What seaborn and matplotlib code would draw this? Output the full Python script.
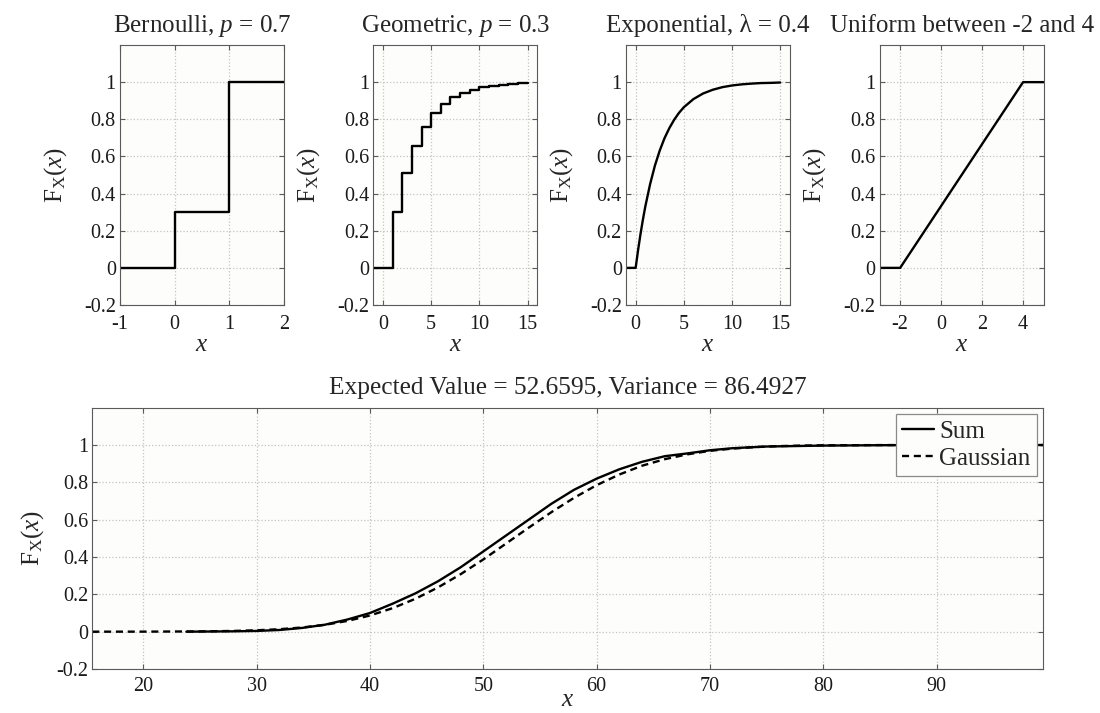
import matplotlib
matplotlib.use("Agg")
import matplotlib.pyplot as plt
import pandas as pd
import seaborn as sns

# ---- distribution CDFs ----
bern_x = [-1, 0, 1, 2]
bern_cdf = [0.0, 0.3, 1.0, 1.0]

geom_x = [-1, 1, 2, 3, 4, 5, 6, 7, 8, 9, 10, 11, 12, 13, 14, 15]
geom_cdf = [0.0, 0.300, 0.510, 0.657, 0.760, 0.832, 0.882, 0.918, 0.942,
            0.960, 0.972, 0.980, 0.986, 0.990, 0.993, 0.995]

expo_x = [-1, 0, 0.25, 0.5, 0.75, 1, 1.5, 2, 2.5, 3, 3.5, 4, 4.5, 5, 6, 7,
          8, 9, 10, 11, 12, 13, 14, 15]
expo_cdf = [0.0, 0.0, 0.095, 0.181, 0.259, 0.330, 0.451, 0.551, 0.632, 0.699,
            0.753, 0.798, 0.835, 0.865, 0.909, 0.939, 0.959, 0.973, 0.982,
            0.988, 0.992, 0.995, 0.996, 0.998]

unif_x = [-3, -2, 4, 5]
unif_cdf = [0.0, 0.0, 1.0, 1.0]

# ---- sum of the variables vs. Gaussian approximation ----
sum_x = [23.8, 26, 28, 30, 32, 34, 36, 38, 40, 42, 44, 46, 48, 50, 52, 54,
         56, 58, 60, 62, 64, 66, 68, 70, 72, 75, 80, 85, 90, 99.4]
sum_cdf = [0.0, 0.001, 0.002, 0.004, 0.009, 0.020, 0.037, 0.065, 0.100,
           0.150, 0.205, 0.270, 0.345, 0.430, 0.515, 0.600, 0.685, 0.760,
           0.820, 0.870, 0.910, 0.940, 0.955, 0.972, 0.983, 0.992, 0.997,
           0.999, 1.0, 1.0]

gauss_x = [15.5, 20, 25, 28, 30, 32, 34, 36, 38, 40, 42, 44, 46, 48, 50, 52,
           54, 56, 58, 60, 62, 64, 66, 68, 70, 72, 74, 76, 78, 80, 85, 90, 99.4]
gauss_cdf = [0.0, 0.0002, 0.0015, 0.004, 0.0074, 0.0132, 0.0224, 0.0366,
             0.0575, 0.0867, 0.126, 0.176, 0.237, 0.308, 0.387, 0.472, 0.557,
             0.640, 0.717, 0.785, 0.842, 0.889, 0.924, 0.950, 0.969, 0.981,
             0.989, 0.994, 0.9968, 0.9984, 0.9997, 1.0, 1.0]

titles = ["Bernoulli, $p$ = 0.7", "Geometric, $p$ = 0.3",
          "Exponential, λ = 0.4", "Uniform between -2 and 4"]
bottom_title = "Expected Value = 52.6595, Variance = 86.4927"

y_ticks = [-0.2, 0, 0.2, 0.4, 0.6, 0.8, 1]
y_ticklabels = ["-0.2", "0", "0.2", "0.4", "0.6", "0.8", "1"]
top_xticks = [[-1, 0, 1, 2], [0, 5, 10, 15], [0, 5, 10, 15], [-2, 0, 2, 4]]
top_xlims = [(-1, 2), (-1, 16), (-1, 16), (-3, 5)]
bottom_xticks = [20, 30, 40, 50, 60, 70, 80, 90]

FRAME = "#5a5a5a"
sns.set_style("ticks", rc={
    "axes.facecolor": "#fdfdfc",
    "axes.edgecolor": FRAME,
    "axes.linewidth": 1.0,
    "axes.grid": True,
    "grid.color": "#c4c4c4",
    "grid.linestyle": ":",
    "xtick.direction": "in",
    "ytick.direction": "in",
    "xtick.top": True,
    "ytick.right": True,
    "xtick.color": FRAME,
    "ytick.color": FRAME,
    "xtick.major.size": 4.5,
    "ytick.major.size": 4.5,
})
plt.rcParams["font.family"] = ["Liberation Serif", "DejaVu Serif"]
plt.rcParams["mathtext.fontset"] = "custom"
plt.rcParams["mathtext.rm"] = "Liberation Serif"
plt.rcParams["mathtext.it"] = "Liberation Serif:italic"
plt.rcParams["axes.unicode_minus"] = False
plt.rcParams["grid.linewidth"] = 0.9

TICK_FS = 14.5
LABEL_FS = 18
TITLE_FS = 18
YLABEL = r"$\mathrm{F}_\mathrm{X}(x)$"

fig = plt.figure(figsize=(11, 7.13), dpi=100)

top_lefts = [0.1091, 0.3394, 0.5691, 0.7997]
data_sets = [(bern_x, bern_cdf, "steps-post"), (geom_x, geom_cdf, "steps-post"),
             (expo_x, expo_cdf, "default"), (unif_x, unif_cdf, "default")]


def style_axes(ax, xticks, xlim, ylabelpad, xpad, xlabelpad):
    ax.set_ylim(-0.2, 1.2)
    ax.set_yticks(y_ticks)
    ax.set_yticklabels(y_ticklabels)
    ax.set_xticks(xticks)
    ax.set_xticklabels([str(t) for t in xticks])
    ax.set_xlim(*xlim)
    ax.tick_params(labelsize=TICK_FS, labelcolor="#1a1a1a")
    ax.tick_params(axis="x", pad=xpad)
    ax.tick_params(axis="y", pad=3)
    ax.set_xlabel("$x$", fontsize=LABEL_FS, labelpad=xlabelpad)
    ax.set_ylabel(YLABEL, fontsize=LABEL_FS, labelpad=ylabelpad)
    for s in ax.spines.values():
        s.set_visible(True)
        s.set_color(FRAME)


for i, (xs, ys, ds) in enumerate(data_sets):
    ax = fig.add_axes([top_lefts[i], 0.5722, 0.1490, 0.3647])
    df = pd.DataFrame({"x": xs, "F": ys})
    sns.lineplot(data=df, x="x", y="F", ax=ax, color="black", linewidth=1.7,
                 drawstyle=ds, estimator=None, sort=False)
    style_axes(ax, top_xticks[i], top_xlims[i], 11, 7, 0)
    ax.set_title(titles[i], fontsize=TITLE_FS, pad=9)

axb = fig.add_axes([0.0839, 0.0617, 0.8645, 0.3665])
df_sum = pd.DataFrame({"x": sum_x, "F": sum_cdf})
df_gauss = pd.DataFrame({"x": gauss_x, "F": gauss_cdf})
sns.lineplot(data=df_sum, x="x", y="F", ax=axb, color="black", linewidth=1.7,
             estimator=None, sort=False, label="Sum")
sns.lineplot(data=df_gauss, x="x", y="F", ax=axb, color="black", linewidth=1.7,
             linestyle=(0, (3, 2)), estimator=None, sort=False, label="Gaussian")
style_axes(axb, bottom_xticks, (15.5, 99.4), 7, 5.5, -4.5)
axb.set_title(bottom_title, fontsize=18.3, pad=10)

leg = axb.legend(loc="upper right", fontsize=18, handlelength=1.3,
                 handletextpad=0.2, borderpad=0.25, labelspacing=0.2,
                 borderaxespad=0.25, fancybox=False, framealpha=1)
leg.get_frame().set_edgecolor("#8a8a8a")
leg.get_frame().set_linewidth(0.9)

fig.savefig("out.png", dpi=100, facecolor="white")
